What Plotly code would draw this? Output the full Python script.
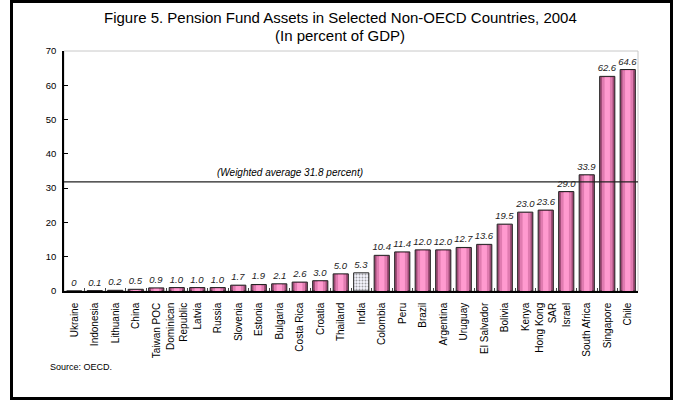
import plotly.graph_objects as go

countries = ["Ukraine", "Indonesia", "Lithuania", "China", "Taiwan POC",
             "Dominican<br>Republic", "Latvia", "Russia", "Slovenia", "Estonia",
             "Bulgaria", "Costa Rica", "Croatia", "Thailand", "India", "Colombia",
             "Peru", "Brazil", "Argentina", "Uruguay", "El Salvador", "Bolivia",
             "Kenya", "Hong Kong<br>SAR", "Israel", "South Africa", "Singapore", "Chile"]
values = [0, 0.1, 0.2, 0.5, 0.9, 1.0, 1.0, 1.0, 1.7, 1.9, 2.1, 2.6, 3.0, 5.0, 5.3,
          10.4, 11.4, 12.0, 12.0, 12.7, 13.6, 19.5, 23.0, 23.6, 29.0, 33.9, 62.6, 64.6]
labels = ["0", "0.1", "0.2", "0.5", "0.9", "1.0", "1.0", "1.0", "1.7", "1.9", "2.1",
          "2.6", "3.0", "5.0", "5.3", "10.4", "11.4", "12.0", "12.0", "12.7", "13.6",
          "19.5", "23.0", "23.6", "29.0", "33.9", "62.6", "64.6"]
weighted_avg = 31.8
highlight = "India"

W, H = 678, 402
L, R, T, B = 64, 40, 51, 111
pw, ph = W - L - R, H - T - B

def px(x):
    return (x - L) / pw

def py(y):
    return (H - B - y) / ph

is_hl = [c == highlight for c in countries]
outer_colors = ["#F6F6FF" if h else "#9C4A74" for h in is_hl]
mid_colors = ["rgba(0,0,0,0)" if h else "#E07BB0" for h in is_hl]
inner_colors = ["rgba(0,0,0,0)" if h else "#FF9ACF" for h in is_hl]
patterns = ["." if h else "" for h in is_hl]

fig = go.Figure()
fig.add_trace(go.Bar(
    x=countries, y=values, width=0.74,
    marker=dict(color=outer_colors, line=dict(color="#222222", width=1),
                pattern=dict(shape=patterns, fgcolor="#7C7CE0", size=3, solidity=0.35)),
    text=labels, textposition="outside", cliponaxis=False, constraintext="none",
    textfont=dict(family="Liberation Sans, Arial", size=9.5, color="#222222", style="italic"),
    hoverinfo="x+y",
))
fig.add_trace(go.Bar(
    x=countries, y=[v - 0.25 if v > 0.3 else None for v in values], width=0.52,
    marker=dict(color=mid_colors, line=dict(width=0)), hoverinfo="skip",
))
fig.add_trace(go.Bar(
    x=countries, y=[v - 0.25 if v > 0.3 else None for v in values], width=0.26,
    marker=dict(color=inner_colors, line=dict(width=0)), hoverinfo="skip",
))

shapes = [
    dict(type="rect", xref="paper", yref="paper", x0=0, x1=1, y0=0, y1=1,
         line=dict(color="#C8C8C8", width=1), layer="below"),
    dict(type="line", xref="paper", yref="y", x0=0, x1=1, y0=weighted_avg, y1=weighted_avg,
         line=dict(color="#222222", width=1.2)),
    dict(type="rect", xref="paper", yref="paper", x0=px(11.5), x1=px(671.5),
         y0=py(398.5), y1=py(1.5), line=dict(color="black", width=3)),
]

fig.update_layout(
    width=W, height=H,
    margin=dict(l=L, r=R, t=T, b=B),
    paper_bgcolor="white", plot_bgcolor="white",
    barmode="overlay", showlegend=False,
    font=dict(family="Liberation Sans, Arial", size=9, color="black"),
    shapes=shapes,
    annotations=[
        dict(text="Figure 5. Pension Fund Assets in Selected Non-OECD Countries, 2004",
             xref="paper", yref="paper", x=px(340), y=py(17), showarrow=False,
             xanchor="center", yanchor="middle", font=dict(size=15, color="black")),
        dict(text="(In percent of GDP)",
             xref="paper", yref="paper", x=px(340), y=py(35), showarrow=False,
             xanchor="center", yanchor="middle", font=dict(size=15, color="black")),
        dict(text="(Weighted average 31.8 percent)", xref="paper", yref="y",
             x=px(290), y=weighted_avg, yanchor="bottom", showarrow=False, yshift=2,
             font=dict(size=10, style="italic", color="black")),
        dict(text="Source: OECD.", xref="paper", yref="paper", x=px(48), y=py(367),
             xanchor="left", yanchor="middle", showarrow=False,
             font=dict(size=9, color="black")),
    ],
    xaxis=dict(tickangle=-90, showline=True, linecolor="black", linewidth=1.5,
               ticks="inside", tickson="boundaries", ticklen=3, tickcolor="#444444",
               tickfont=dict(size=10), ticklabelstandoff=6, showgrid=False, fixedrange=True),
    yaxis=dict(range=[0, 70], dtick=10, showline=True, linecolor="black", linewidth=1.5,
               ticks="inside", ticklen=4, tickcolor="black", showgrid=False,
               ticklabelstandoff=4,
               zeroline=False, tickfont=dict(size=9.5), fixedrange=True),
)

fig.write_html("out.html", config={"displayModeBar": False},
               post_script="document.body.style.margin='0';document.body.style.overflow='hidden';")
